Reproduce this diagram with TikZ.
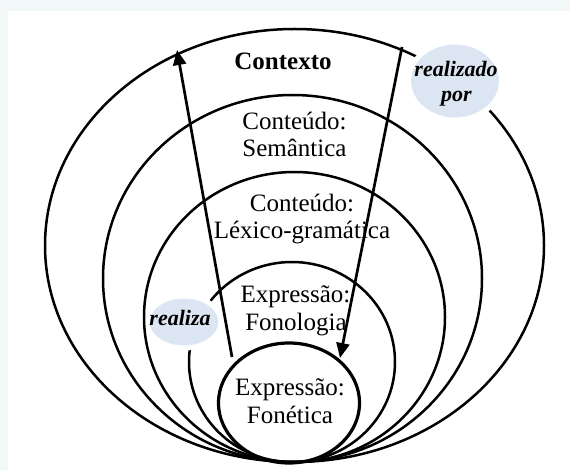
\documentclass[tikz,border=0pt]{standalone}
\usepackage{fontspec}
\setmainfont{Liberation Serif}
\usetikzlibrary{arrows.meta,shapes.geometric}
\definecolor{bgband}{RGB}{242,248,248}
\definecolor{bubble}{RGB}{220,230,242}
\begin{document}
\begin{tikzpicture}[x=1pt,y=-1pt,
  ring/.style={draw=black,line width=2.5pt},
  bub/.style={ellipse,fill=bubble,draw=white,line width=5pt,inner sep=0pt},
  lbl/.style={font=\fontsize{25}{28}\selectfont,inner sep=0pt,anchor=base},
  blbl/.style={font=\fontsize{22}{26}\selectfont\bfseries\itshape,inner sep=0pt,anchor=base},
  arr/.style={line width=2.7pt,-{Triangle[length=15pt,width=13pt]}}]
\fill[bgband] (0,0) rectangle (570,470);
\fill[white] (8,11) rectangle (570,470);
\useasboundingbox (0,0) rectangle (570,470);
% rings
\draw[ring] (294.5,245.5) ellipse [x radius=249.5pt, y radius=216.5pt];
\draw[ring] (292.5,278.5) ellipse [x radius=189.5pt, y radius=183.5pt];
\draw[ring] (292,362) ellipse [x radius=103pt, y radius=100pt];
\draw[ring,line width=3.2pt] (289,403) ellipse [x radius=70.5pt, y radius=60pt];
% bubbles
\node[bub,minimum width=93pt,minimum height=78pt] (rp) at (455,81) {};
\node[bub,minimum width=74pt,minimum height=52pt] (rz) at (184,322) {};
\draw[ring] (294.5,317) ellipse [x radius=150.5pt, y radius=145pt];
% labels
\node[lbl,font=\fontsize{25}{28}\selectfont\bfseries] (ctx) at (283,70) {Contexto};
\node[lbl] (sem1) at (294.5,130) {Conteúdo:};
\node[lbl] (sem2) at (294.5,157) {Semântica};
\node[lbl] (lex1) at (302,212) {Conteúdo:};
\node[lbl] (lex2) at (302,239) {Léxico-gramática};
\node[lbl] (fon1) at (295.5,302) {Expressão:};
\node[lbl] (fon2) at (296,330) {Fonologia};
\node[lbl] (fe1) at (290,395) {Expressão:};
\node[lbl] (fe2) at (290,423) {Fonética};
\node[blbl] (rp1) at (456,77) {realizado};
\node[blbl] (rp2) at (456.5,102) {por};
\node[blbl] (rz1) at (180,325) {realiza};
% arrows
\coordinate (a1s) at (232,357);
\coordinate (a1e) at (177,50);
\coordinate (a2s) at (402,47);
\coordinate (a2e) at (340,358);
\draw[arr] (a1s) -- (a1e);
\draw[arr] (a2s) -- (a2e);
\end{tikzpicture}
\end{document}
